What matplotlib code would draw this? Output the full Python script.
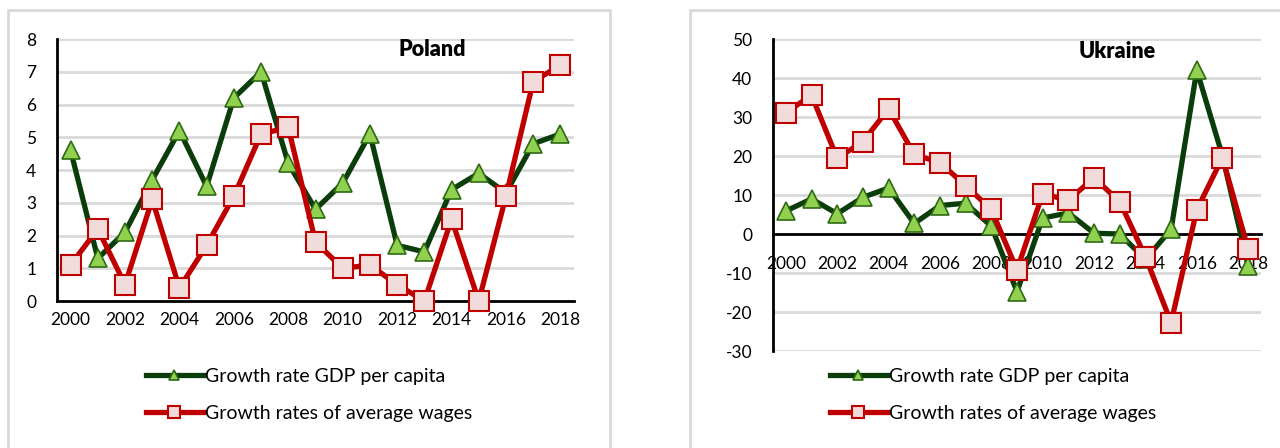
import numpy as np
import matplotlib
matplotlib.use("Agg")
import matplotlib.pyplot as plt
from matplotlib.patches import Rectangle

plt.rcParams['font.family'] = ['Lato', 'DejaVu Sans']
plt.rcParams['axes.unicode_minus'] = False

years = list(range(2000, 2019))
tick_years = list(range(2000, 2019, 2))

pl_gdp = [4.6, 1.3, 2.1, 3.7, 5.2, 3.5, 6.2, 7.0, 4.2, 2.8, 3.6, 5.1, 1.7, 1.5, 3.4, 3.9, 3.3, 4.8, 5.1]
pl_wages = [1.1, 2.2, 0.5, 3.1, 0.4, 1.7, 3.2, 5.1, 5.3, 1.8, 1.0, 1.1, 0.5, 0.0, 2.5, 0.0, 3.2, 6.7, 7.2]

ua_gdp = [5.9, 9.0, 5.2, 9.4, 11.8, 2.7, 7.3, 7.9, 2.0, -14.8, 4.1, 5.4, 0.2, 0.0, -6.5, 1.2, 42.0, 20.0, -8.3]
ua_wages = [31.1, 35.6, 19.4, 23.7, 32.1, 20.4, 18.3, 12.4, 6.3, -9.2, 10.3, 8.7, 14.4, 8.3, -5.8, -22.7, 6.2, 19.6, -3.9]

label_gdp = "Growth rate GDP per capita"
label_wages = "Growth rates of average wages"

green_line = "#0b3d0b"
green_face = "#92d050"
green_edge = "#2d6a14"
red_line = "#c00000"
red_face = "#f2dcdb"

W, H = 1280, 448
fig = plt.figure(figsize=(12.8, 4.48), dpi=100)

# panel frames
for (x0, x1) in [(8, 610), (690, 1290)]:
    fig.patches.append(Rectangle((x0 / W, -0.1), (x1 - x0) / W, (H - 10) / H + 0.1,
                                 transform=fig.transFigure, fill=False,
                                 edgecolor="#d9d9d9", linewidth=2))


def panel(rect, gdp, wages, ylim, step, title, title_x):
    ax = fig.add_axes(rect)
    x = np.arange(len(years))
    ax.plot(x, gdp, color=green_line, lw=3.8, marker="^", ms=13,
            mfc=green_face, mec=green_edge, mew=1.2, label=label_gdp,
            zorder=3, clip_on=False)
    ax.plot(x, wages, color=red_line, lw=3.8, marker="s", ms=14.5,
            mfc=red_face, mec=red_line, mew=1.5, label=label_wages,
            zorder=4, clip_on=False)
    ax.set_xlim(-0.5, len(years) - 0.5)
    ax.set_ylim(*ylim)
    ax.set_yticks(np.arange(ylim[0], ylim[1] + step / 2, step))
    ax.set_xticks([years.index(y) for y in tick_years])
    ax.set_xticklabels([str(y) for y in tick_years])
    ax.grid(axis="y", color="#d9d9d9", lw=2)
    ax.set_axisbelow(True)
    for s in ["top", "right"]:
        ax.spines[s].set_visible(False)
    ax.spines["left"].set_linewidth(2)
    ax.spines["bottom"].set_linewidth(2)
    ax.spines["bottom"].set_position(("data", 0))
    ax.tick_params(length=0, labelsize=12.5, colors="black")
    ax.tick_params(axis="x", pad=8)
    ax.tick_params(axis="y", pad=15)
    ax.text(title_x, 0.96, title, transform=ax.transAxes, fontsize=15.5,
            fontweight="heavy", ha="center", va="center")
    return ax


ax1 = panel([57 / W, 1 - 301 / H, (574 - 57) / W, (301 - 39) / H],
            pl_gdp, pl_wages, (0, 8), 1, "Poland", 0.725)
ax2 = panel([773 / W, 1 - 351 / H, (1261 - 773) / W, (351 - 39) / H],
            ua_gdp, ua_wages, (-30, 50), 10, "Ukraine", 0.705)
ax2.tick_params(axis="x", pad=16)

for ax, cx in [(ax1, 309), (ax2, 993)]:
    ax.legend(loc="center", bbox_to_anchor=(cx / W, 1 - 395 / H),
              bbox_transform=fig.transFigure, frameon=False, fontsize=14,
              handlelength=2.9, handletextpad=0.1, labelspacing=1.0,
              markerscale=0.6)

fig.savefig("out.png", dpi=100)
